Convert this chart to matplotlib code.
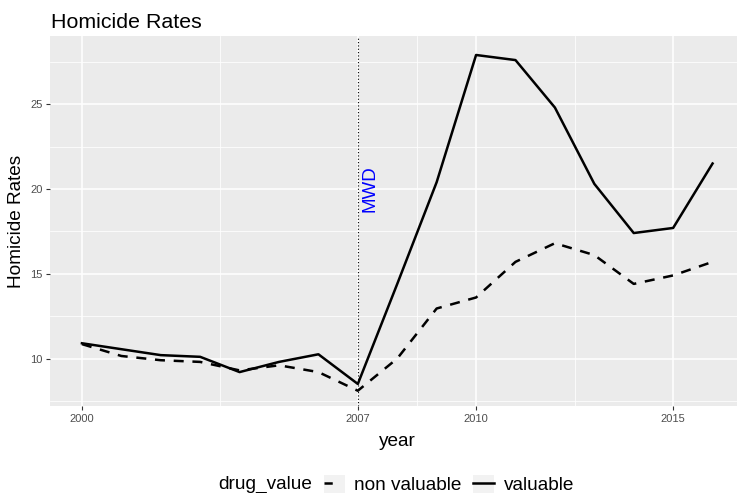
import matplotlib
matplotlib.use("Agg")
import matplotlib.pyplot as plt
from matplotlib.lines import Line2D
from matplotlib.patches import Patch

plt.rcParams['font.family'] = ['Liberation Sans', 'DejaVu Sans']

years = list(range(2000, 2017))
valuable = [10.9, 10.55, 10.2, 10.1, 9.2, 9.8, 10.25, 8.5, 14.4, 20.4,
            27.9, 27.6, 24.8, 20.3, 17.4, 17.7, 21.5]
non_valuable = [10.85, 10.15, 9.9, 9.8, 9.3, 9.6, 9.2, 8.1, 10.0, 12.95,
                13.6, 15.7, 16.8, 16.1, 14.4, 14.9, 15.7]
x_breaks = [2000, 2007, 2010, 2015]
x_minor = [2003.5, 2008.5, 2012.5]
y_breaks = [10, 15, 20, 25]
y_minor = [7.5, 12.5, 17.5, 22.5, 27.5]
event_year = 2007
event_label = "MWD"

W, H = 737, 493
LW = 1.8
fig = plt.figure(figsize=(W / 100, H / 100), dpi=100)
ax = fig.add_axes([50 / W, 1 - 406 / H, 1 - 50 / W, (406 - 36) / H])
ax.set_facecolor('#EBEBEB')
for s in ax.spines.values():
    s.set_visible(False)

ax.set_xlim(1999.19, 2016.62)
ax.set_ylim(7.2, 29.02)
ax.set_xticks(x_breaks)
ax.set_xticks(x_minor, minor=True)
ax.set_yticks(y_breaks)
ax.set_yticks(y_minor, minor=True)
ax.grid(which='major', color='white', linewidth=1.1)
ax.grid(which='minor', color='white', linewidth=0.55)
ax.set_axisbelow(True)
ax.tick_params(which='major', length=3, width=0.8, color='#333333',
               labelsize=8, labelcolor='#4D4D4D', pad=2.5)
ax.tick_params(which='minor', length=0)

ax.plot(years, non_valuable, color='black', linewidth=LW, dashes=(4, 3.5),
        solid_joinstyle='round')
ax.plot(years, valuable, color='black', linewidth=LW, solid_joinstyle='round')
ax.axvline(event_year, color='black', linestyle=(0, (1, 2)), linewidth=0.8)
ax.text(2007.32, 20, event_label, rotation=90, color='blue', fontsize=13.5,
        ha='center', va='center')

ax.set_xlabel('year', fontsize=13.7, va='center')
ax.xaxis.set_label_coords((397 - 50) / 687, -(441 - 406) / 370)
ax.set_ylabel('Homicide Rates', fontsize=13.7, va='center', ha='center')
ax.yaxis.set_label_coords((17 - 50) / 687, 0.5)

fig.text(51 / W, 1 - 27.5 / H, 'Homicide Rates', fontsize=15.4,
         ha='left', va='baseline')

fig.text(218 / W, 1 - 484.5 / H, 'drug_value', fontsize=13.7, ha='left', va='center')
h1 = (Patch(facecolor='#F2F2F2', edgecolor='none'),
      Line2D([], [], color='black', linewidth=LW, dashes=(3.3, 6)))
h2 = (Patch(facecolor='#F2F2F2', edgecolor='none'),
      Line2D([], [], color='black', linewidth=LW))
fig.legend([h1, h2], ['non valuable', 'valuable'], loc='center left',
           bbox_to_anchor=(324 / W, 1 - 484.5 / H), ncol=2, frameon=False,
           fontsize=13.7, handlelength=1.1, handleheight=1.1,
           handletextpad=0.5, columnspacing=0.6, borderpad=0, borderaxespad=0)

fig.savefig('out.png', dpi=100)
